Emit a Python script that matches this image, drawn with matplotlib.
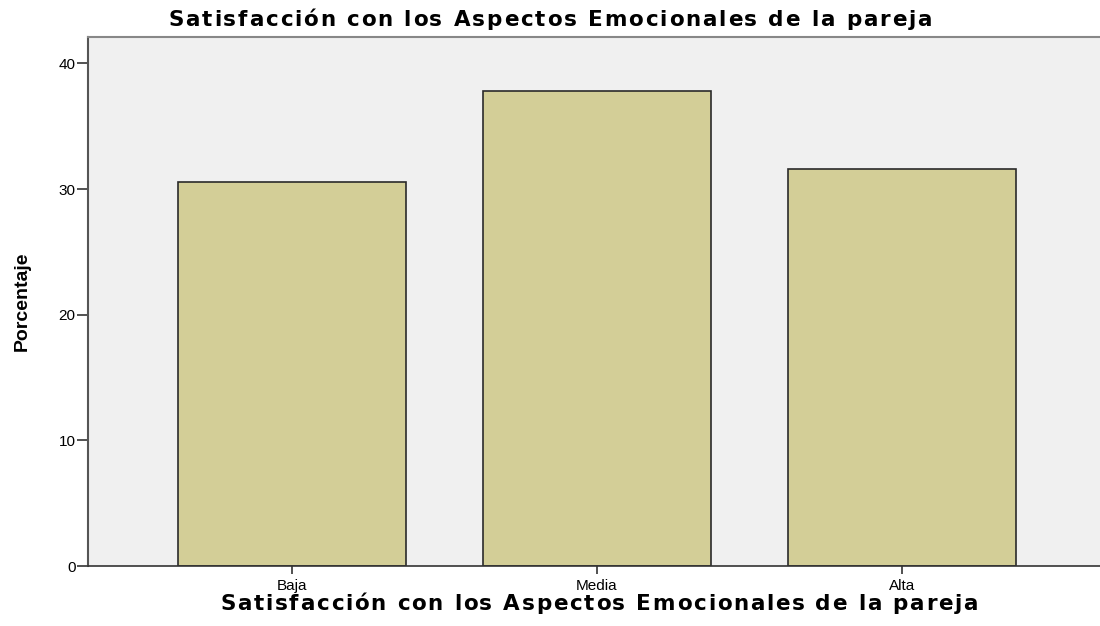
import matplotlib
matplotlib.use('Agg')
import matplotlib.pyplot as plt

categorias = ['Baja', 'Media', 'Alta']
porcentajes = [30.6, 37.8, 31.6]
titulo = 'Satisfacción con los Aspectos Emocionales de la pareja'

W, H = 1100, 626
fig = plt.figure(figsize=(W / 100, H / 100), dpi=100)
ax = fig.add_axes([0.08, 0.0958, 0.9255, 0.845])
ax.set_facecolor('#f0f0f0')


def texto_espaciado(s, x0, x1, y_base, **kw):
    # el original está estirado en horizontal: se reparte el texto letra a letra
    r = fig.canvas.get_renderer()

    def ancho(t):
        tt = fig.text(0, 0, t + '|', **kw)
        w = tt.get_window_extent(r).width
        tt.remove()
        return w

    barra = ancho('')
    total = ancho(s) - barra
    extra = ((x1 - x0) - total) / (len(s) - 1)
    for i, c in enumerate(s):
        px = x0 + (ancho(s[:i]) - barra) + i * extra
        fig.text(px / W, 1 - y_base / H, c, ha='left', va='baseline', **kw)


x = range(len(categorias))
ax.bar(x, porcentajes, width=0.748, color='#d3ce97', edgecolor='#2a2a2a', linewidth=1.2)

ax.set_xlim(-0.67, 2.67)
ax.set_ylim(0, 42.1)
ax.set_yticks([0, 10, 20, 30, 40])
ax.set_xticks(list(x))
ax.set_xticklabels(categorias)

for lab in ax.get_xticklabels() + ax.get_yticklabels():
    lab.set_family('Liberation Sans')
ax.tick_params(axis='y', length=8, width=1.2, color='#333333', labelsize=11, pad=1)
ax.tick_params(axis='x', length=6, width=1.2, color='#333333', labelsize=11, pad=3)

ax.spines['left'].set_color('#555555')
ax.spines['left'].set_linewidth(1.5)
ax.spines['bottom'].set_color('#333333')
ax.spines['bottom'].set_linewidth(1.2)
ax.spines['top'].set_color('#888888')
ax.spines['top'].set_linewidth(1.5)
ax.spines['right'].set_visible(False)

estilo = dict(fontsize=15.5, fontweight='bold', family='DejaVu Sans', color='black')
texto_espaciado(titulo, 168, 932, 26, **estilo)
texto_espaciado(titulo, 220, 978, 610, **estilo)

ax.set_ylabel('Porcentaje', fontsize=14, fontweight='bold',
              family='Liberation Sans', labelpad=20)

fig.savefig('out.png', dpi=100)
